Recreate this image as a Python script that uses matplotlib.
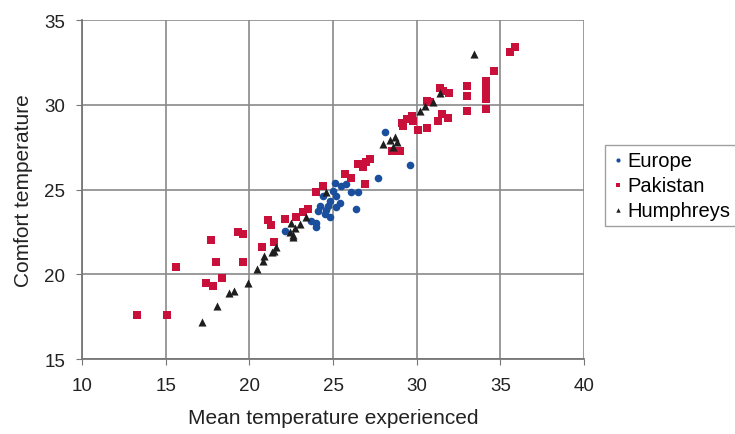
import numpy as np
import matplotlib
matplotlib.use("Agg")
import matplotlib.pyplot as plt

plt.rcParams['font.family'] = ['Liberation Sans', 'DejaVu Sans']

# Europe (blue circles)
europe_x = [28.1, 29.6, 27.7, 26.4, 26.5, 26.1, 25.1, 25.5, 25.8, 25.2, 24.8, 24.4, 24.2,
            24.7, 25.2, 24.5, 24.8, 24.0, 24.0, 23.7, 22.1, 25.0, 24.6, 24.1, 25.4]
europe_y = [28.4, 26.45, 25.7, 23.85, 24.85, 24.85, 25.4, 25.2, 25.3, 24.6, 24.35, 24.6, 24.05,
            24.05, 23.95, 23.55, 23.35, 23.05, 22.8, 23.15, 22.55, 24.9, 23.8, 23.75, 24.2]

# Pakistan (red squares)
pakistan_x = [13.3, 15.1, 15.6, 17.7, 18.0, 17.4, 17.85, 18.35, 19.3, 19.6, 19.6,
              21.1, 21.3, 22.15, 20.75, 21.5,
              24.4, 24.0, 25.7, 26.1, 26.5, 27.0, 26.8, 26.9, 23.2, 22.8, 23.5, 27.2,
              28.5, 29.0, 29.1, 29.4, 29.7, 29.2, 29.8, 30.1, 30.6, 30.6, 30.8,
              31.4, 31.6, 31.95, 31.3, 31.5, 31.9, 33.0, 33.0, 33.0,
              34.15, 34.15, 34.15, 34.15, 34.15, 34.6, 35.6, 35.9]
pakistan_y = [17.6, 17.6, 20.45, 22.05, 20.7, 19.5, 19.3, 19.75, 22.5, 22.4, 20.7,
              23.2, 22.9, 23.25, 21.6, 21.9,
              25.2, 24.85, 25.9, 25.7, 26.5, 26.6, 26.3, 25.3, 23.65, 23.35, 23.85, 26.8,
              27.3, 27.3, 28.95, 29.15, 29.35, 28.75, 29.05, 28.5, 28.6, 30.2, 30.15,
              31.0, 30.8, 30.7, 29.05, 29.45, 29.2, 31.1, 30.5, 29.65,
              31.4, 31.0, 30.7, 30.35, 29.75, 32.0, 33.1, 33.4]

# Humphreys (black triangles)
humphreys_x = [17.15, 18.05, 18.8, 19.1, 19.9, 20.45, 20.8, 20.9, 21.35, 21.6, 21.5,
               22.4, 22.6, 22.6, 22.5, 22.7, 23.0, 23.4, 24.6,
               28.0, 28.4, 28.7, 28.8, 28.6, 30.2, 30.5, 31.0, 31.4, 33.4]
humphreys_y = [17.2, 18.1, 18.9, 19.0, 19.5, 20.3, 20.8, 21.1, 21.3, 21.6, 21.4,
               22.5, 22.3, 22.2, 23.05, 22.75, 22.95, 23.4, 24.85,
               27.7, 27.9, 28.1, 27.8, 27.5, 29.65, 29.95, 30.15, 30.7, 33.0]

fig = plt.figure(figsize=(7.35, 4.35), dpi=100)
ax = fig.add_axes([0.1116, 0.1724, 0.6830, 0.7793])

ax.scatter(europe_x, europe_y, marker='o', s=30, color='#1a4f9e', label='Europe', zorder=3, linewidths=0)
ax.scatter(pakistan_x, pakistan_y, marker='s', s=26, color='#c8103a', label='Pakistan', zorder=3, linewidths=0)
ax.scatter(humphreys_x, humphreys_y, marker='^', s=34, color='#1e1e1e', label='Humphreys', zorder=4, linewidths=0)

ax.set_xlim(10, 40)
ax.set_ylim(15, 35)
ax.set_xticks(np.arange(10, 41, 5))
ax.set_yticks(np.arange(15, 36, 5))
ax.grid(True, color='#8a8a8a', linewidth=1.2)
ax.set_axisbelow(True)

for side in ['top', 'right']:
    ax.spines[side].set_visible(False)
ax.spines['left'].set_color('#777777')
ax.spines['bottom'].set_color('#777777')
ax.spines['left'].set_linewidth(1.3)
ax.spines['bottom'].set_linewidth(1.3)
ax.tick_params(axis='both', colors='#777777', labelcolor='#222222', length=4,
               labelsize=13.5)
ax.tick_params(axis='x', pad=9)
ax.tick_params(axis='y', pad=8)

ax.set_xlabel('Mean temperature experienced', fontsize=15, color='#222222', labelpad=10)
ax.set_ylabel('Comfort temperature', fontsize=15, color='#222222', labelpad=8)

leg = ax.legend(loc='center left', bbox_to_anchor=(1.042, 0.513), frameon=True,
                fancybox=False, edgecolor='#888888', fontsize=14.5, markerscale=0.55,
                handletextpad=0.1, handlelength=0.7, borderpad=0.3, labelspacing=0.3,
                borderaxespad=0)
leg.get_frame().set_linewidth(1.0)

fig.savefig('out.png', dpi=100)
